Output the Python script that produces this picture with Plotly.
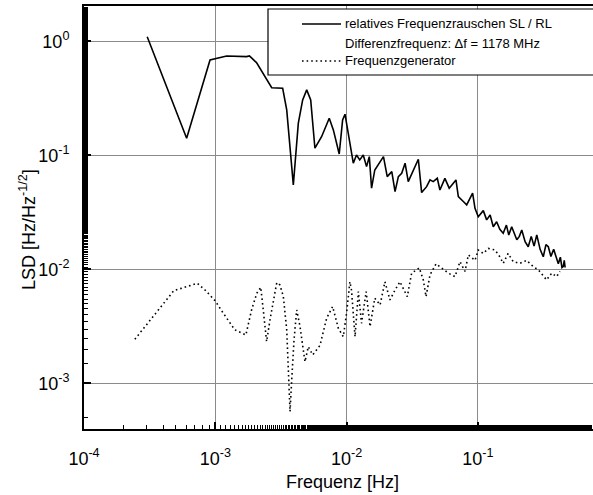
import plotly.graph_objects as go

# --- data: relatives Frequenzrauschen SL / RL ---
f_rel = [3.03e-4, 6.05e-4, 9.12e-4, 1.22e-3, 1.73e-3, 1.82e-3, 2.06e-3, 2.69e-3, 3.26e-3, 3.50e-3,
         3.93e-3, 4.29e-3, 4.63e-3, 4.97e-3, 5.33e-3, 5.74e-3, 6.45e-3, 7.38e-3, 7.93e-3, 8.79e-3,
         9.33e-3, 9.73e-3, 1.06e-2, 1.125e-2, 1.19e-2, 1.26e-2, 1.34e-2, 1.42e-2, 1.49e-2, 1.55e-2,
         1.64e-2, 1.77e-2, 1.91e-2, 2.04e-2, 2.21e-2, 2.34e-2, 2.48e-2, 2.63e-2, 2.79e-2, 2.95e-2,
         3.22e-2, 3.52e-2, 3.73e-2, 4.07e-2, 4.32e-2, 4.57e-2, 4.91e-2, 5.14e-2, 5.61e-2, 6.05e-2,
         6.81e-2, 7.10e-2, 7.75e-2, 8.22e-2, 9.12e-2, 9.51e-2, 0.1007, 0.110, 0.1167, 0.124,
         0.131, 0.139, 0.147, 0.156, 0.165, 0.172, 0.181, 0.198, 0.207, 0.216,
         0.229, 0.242, 0.255, 0.268, 0.281, 0.298, 0.315, 0.330, 0.344, 0.360,
         0.378, 0.398, 0.410, 0.425, 0.437, 0.447, 0.455, 0.462]
lsd_rel = [1.10, 0.1416, 0.688, 0.746, 0.736, 0.746, 0.652, 0.393, 0.388, 0.251,
           0.0551, 0.192, 0.307, 0.376, 0.307, 0.1157, 0.146, 0.212, 0.1675, 0.103,
           0.205, 0.230, 0.128, 0.0855, 0.101, 0.0914, 0.101, 0.0798, 0.0976, 0.0516,
           0.0746, 0.0855, 0.0976, 0.0652, 0.0721, 0.0481, 0.0652, 0.0698, 0.0855, 0.0589,
           0.0746, 0.0926, 0.0472, 0.0532, 0.061, 0.0589, 0.063, 0.0498, 0.063, 0.0516,
           0.061, 0.0435, 0.0394, 0.0368, 0.0466, 0.0344, 0.029, 0.0328, 0.0272, 0.0300,
           0.0237, 0.0262, 0.0225, 0.0208, 0.0245, 0.0200, 0.0237, 0.0182, 0.0195, 0.0222,
           0.0175, 0.0158, 0.0195, 0.0160, 0.0201, 0.0150, 0.0129, 0.0165, 0.0158, 0.0130,
           0.0150, 0.0125, 0.0112, 0.0128, 0.0104, 0.0106, 0.0120, 0.0104]

# --- data: Frequenzgenerator ---
f_gen = [2.44e-4, 2.92e-4, 3.48e-4, 4.07e-4, 4.84e-4, 6.05e-4, 7.29e-4, 8.35e-4, 9.96e-4, 1.15e-3,
         1.41e-3, 1.71e-3, 1.89e-3, 2.07e-3, 2.22e-3, 2.32e-3, 2.46e-3, 2.61e-3, 2.94e-3, 3.11e-3,
         3.30e-3, 3.50e-3, 3.60e-3, 3.71e-3, 3.82e-3, 3.98e-3, 4.17e-3, 4.42e-3, 4.82e-3, 5.11e-3,
         5.52e-3, 6.27e-3, 7.05e-3, 7.83e-3, 8.65e-3, 9.44e-3, 1.0e-2, 1.06e-2, 1.09e-2, 1.16e-2,
         1.23e-2, 1.30e-2, 1.41e-2, 1.51e-2, 1.64e-2, 1.80e-2, 1.96e-2, 2.14e-2, 2.34e-2, 2.55e-2,
         2.90e-2, 3.13e-2, 3.58e-2, 3.84e-2, 4.03e-2, 4.32e-2, 4.80e-2, 5.30e-2, 5.96e-2, 6.70e-2,
         7.31e-2, 7.98e-2, 8.46e-2, 9.51e-2, 0.1007, 0.110, 0.120, 0.135, 0.147, 0.156,
         0.170, 0.186, 0.209, 0.235, 0.264, 0.289, 0.315, 0.334, 0.365, 0.398, 0.422]
lsd_gen = [2.44e-3, 3.15e-3, 3.99e-3, 5.06e-3, 6.52e-3, 7.06e-3, 7.57e-3, 6.6e-3, 5.32e-3, 4.13e-3,
           2.95e-3, 2.66e-3, 4.41e-3, 6.18e-3, 6.97e-3, 4.41e-3, 2.33e-3, 3.61e-3, 7.66e-3, 7.3e-3,
           5.77e-3, 2.95e-3, 1.23e-3, 5.66e-4, 1.07e-3, 2.41e-3, 4.41e-3, 3.15e-3, 1.55e-3, 2.10e-3,
           1.78e-3, 2.15e-3, 3.73e-3, 4.72e-3, 3.05e-3, 2.57e-3, 4.13e-3, 7.8e-3, 6.6e-3, 2.57e-3,
           6.38e-3, 3.37e-3, 6.38e-3, 3.15e-3, 5.59e-3, 4.88e-3, 7.8e-3, 5.4e-3, 6.6e-3, 7.8e-3,
           5.77e-3, 9.27e-3, 1.03e-2, 8.09e-3, 5.77e-3, 8.95e-3, 1.12e-2, 1.03e-2, 9.27e-3, 8.65e-3,
           1.17e-2, 9.6e-3, 1.34e-2, 1.2e-2, 1.48e-2, 1.38e-2, 1.53e-2, 1.48e-2, 1.29e-2, 1.13e-2,
           1.38e-2, 1.17e-2, 1.13e-2, 1.2e-2, 1.06e-2, 9.9e-3, 8.65e-3, 8.09e-3, 9.27e-3, 8.65e-3, 9.6e-3]

x_tickvals = [1e-4, 1e-3, 1e-2, 1e-1]
x_ticktext = ["10<sup>-4</sup>", "10<sup>-3</sup>", "10<sup>-2</sup>", "10<sup>-1</sup>"]
y_tickvals = [1e-3, 1e-2, 1e-1, 1e0]
y_ticktext = ["10<sup>-3</sup>", "10<sup>-2</sup>", "10<sup>-1</sup>", "10<sup>0</sup>"]

legend_labels = ["relatives Frequenzrauschen SL / RL",
                 "Differenzfrequenz: \u0394f = 1178 MHz",
                 "Frequenzgenerator"]
x_title = "Frequenz [Hz]"
y_title = "LSD [Hz/Hz<sup>-1/2</sup>]"

FONT = "Liberation Sans, Arial, sans-serif"

fig = go.Figure()
fig.add_trace(go.Scatter(x=f_rel, y=lsd_rel, mode="lines",
                         line=dict(color="black", width=1.6), showlegend=False))
fig.add_trace(go.Scatter(x=f_gen, y=lsd_gen, mode="lines",
                         line=dict(color="black", width=1.6, dash="1.6px,3px"), showlegend=False))

W, H = 593, 495
L, R, T, B = 84, 0, 6, 66
pw, ph = W - L - R, H - T - B

def px(x):
    return (x - L) / pw

def py(y):
    return (H - B - y) / ph

shapes = [
    dict(type="rect", xref="paper", yref="paper", x0=px(268), x1=1.2, y0=py(75), y1=py(9),
         line=dict(color="black", width=1.2), fillcolor="white", layer="above"),
    dict(type="line", xref="paper", yref="paper", x0=px(302), x1=px(341), y0=py(24), y1=py(24),
         line=dict(color="black", width=1.6), layer="above"),
    dict(type="line", xref="paper", yref="paper", x0=px(302), x1=px(341), y0=py(61), y1=py(61),
         line=dict(color="black", width=1.6, dash="1.6px,3px"), layer="above"),
]
annotations = []
for txt, yy in zip(legend_labels, [24, 43, 61]):
    annotations.append(dict(xref="paper", yref="paper", x=px(343), y=py(yy), text=txt,
                            showarrow=False, xanchor="left", yanchor="middle",
                            font=dict(family=FONT, size=13, color="black")))
annotations.append(dict(xref="paper", yref="paper", x=px(27), y=py(230), text=y_title,
                        textangle=-90, showarrow=False, xanchor="center", yanchor="middle",
                        font=dict(family=FONT, size=18, color="black")))
annotations.append(dict(xref="paper", yref="paper", x=px(342), y=py(482), text=x_title,
                        showarrow=False, xanchor="center", yanchor="middle",
                        font=dict(family=FONT, size=18, color="black")))

axis_common = dict(
    type="log", tickmode="array",
    showline=True, linecolor="black", linewidth=2,
    ticks="inside", ticklen=7, tickwidth=1.5, tickcolor="black",
    showgrid=True, gridcolor="#8a8a8a", gridwidth=1, zeroline=False,
    tickfont=dict(family=FONT, size=18, color="black"),
    minor=dict(ticks="inside", ticklen=4, tickwidth=1.2, tickcolor="black",
               tickmode="auto", dtick="D1", showgrid=False),
    automargin=False,
)

fig.update_layout(
    width=W, height=H,
    margin=dict(l=L, r=R, t=T, b=B),
    paper_bgcolor="white", plot_bgcolor="white",
    font=dict(family=FONT, color="black"),
    xaxis=dict(axis_common, range=[-4, -0.123], mirror=True,
               tickvals=x_tickvals, ticktext=x_ticktext, ticklabelstandoff=12),
    yaxis=dict(axis_common, range=[-3.40, 0.311], mirror=False,
               tickvals=y_tickvals, ticktext=y_ticktext, ticklabelstandoff=9),
    shapes=shapes, annotations=annotations, showlegend=False,
)

fig.write_html("out.html", config={"displayModeBar": False},
               post_script="document.body.style.margin='0';document.body.style.padding='0';")
